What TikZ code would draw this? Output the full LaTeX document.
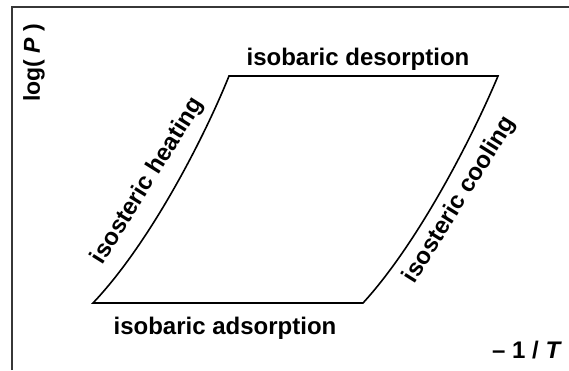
\documentclass[tikz,border=0pt]{standalone}
\usepackage{fontspec}
\setmainfont{Liberation Sans}
\usetikzlibrary{positioning}
\definecolor{CycleLine}{RGB}{0,0,0}
\definecolor{AxisLine}{RGB}{55,55,55}

\begin{document}
\begin{tikzpicture}[x=1pt,y=-1pt]
    \tikzset{steplabel/.style={font=\fontsize{24}{28}\selectfont\bfseries,inner sep=0pt,text=CycleLine}}
    \useasboundingbox (0,0) rectangle (569,370);
    % axes frame
    \coordinate (frameBL) at (12,370);
    \coordinate (frameTL) at (12,7);
    \coordinate (frameTR) at (569,7);
    \draw[AxisLine,line width=1.5pt] (frameBL) -- (frameTL) -- (frameTR);
    % cycle corners
    \coordinate (adsL) at (93,303);
    \coordinate (desL) at (229,76);
    \coordinate (desR) at (498,76);
    \coordinate (adsR) at (363,303);
    \draw[CycleLine,line width=1.6pt] (adsL) .. controls (150,243) and (204,138) .. (desL) -- (desR)
        .. controls (472,138) and (418,243) .. (adsR) -- cycle;
    \node[steplabel,anchor=base] (desorb) at (358,65) {isobaric desorption};
    \node[steplabel,anchor=base] (adsorb) at (225,334) {isobaric adsorption};
    \node[steplabel,rotate=58] (heating) at (148,181) {isosteric heating};
    \node[steplabel,rotate=58] (cooling) at (460,200) {isosteric cooling};
    \node[steplabel,rotate=90,font=\fontsize{23}{27}\selectfont\bfseries] (yaxis) at (34,63) {log( \textit{P} )};
    \node[steplabel] (xaxis) at (527,350) {\textendash{} 1 / \textit{T}};
  \end{tikzpicture}
\end{document}
